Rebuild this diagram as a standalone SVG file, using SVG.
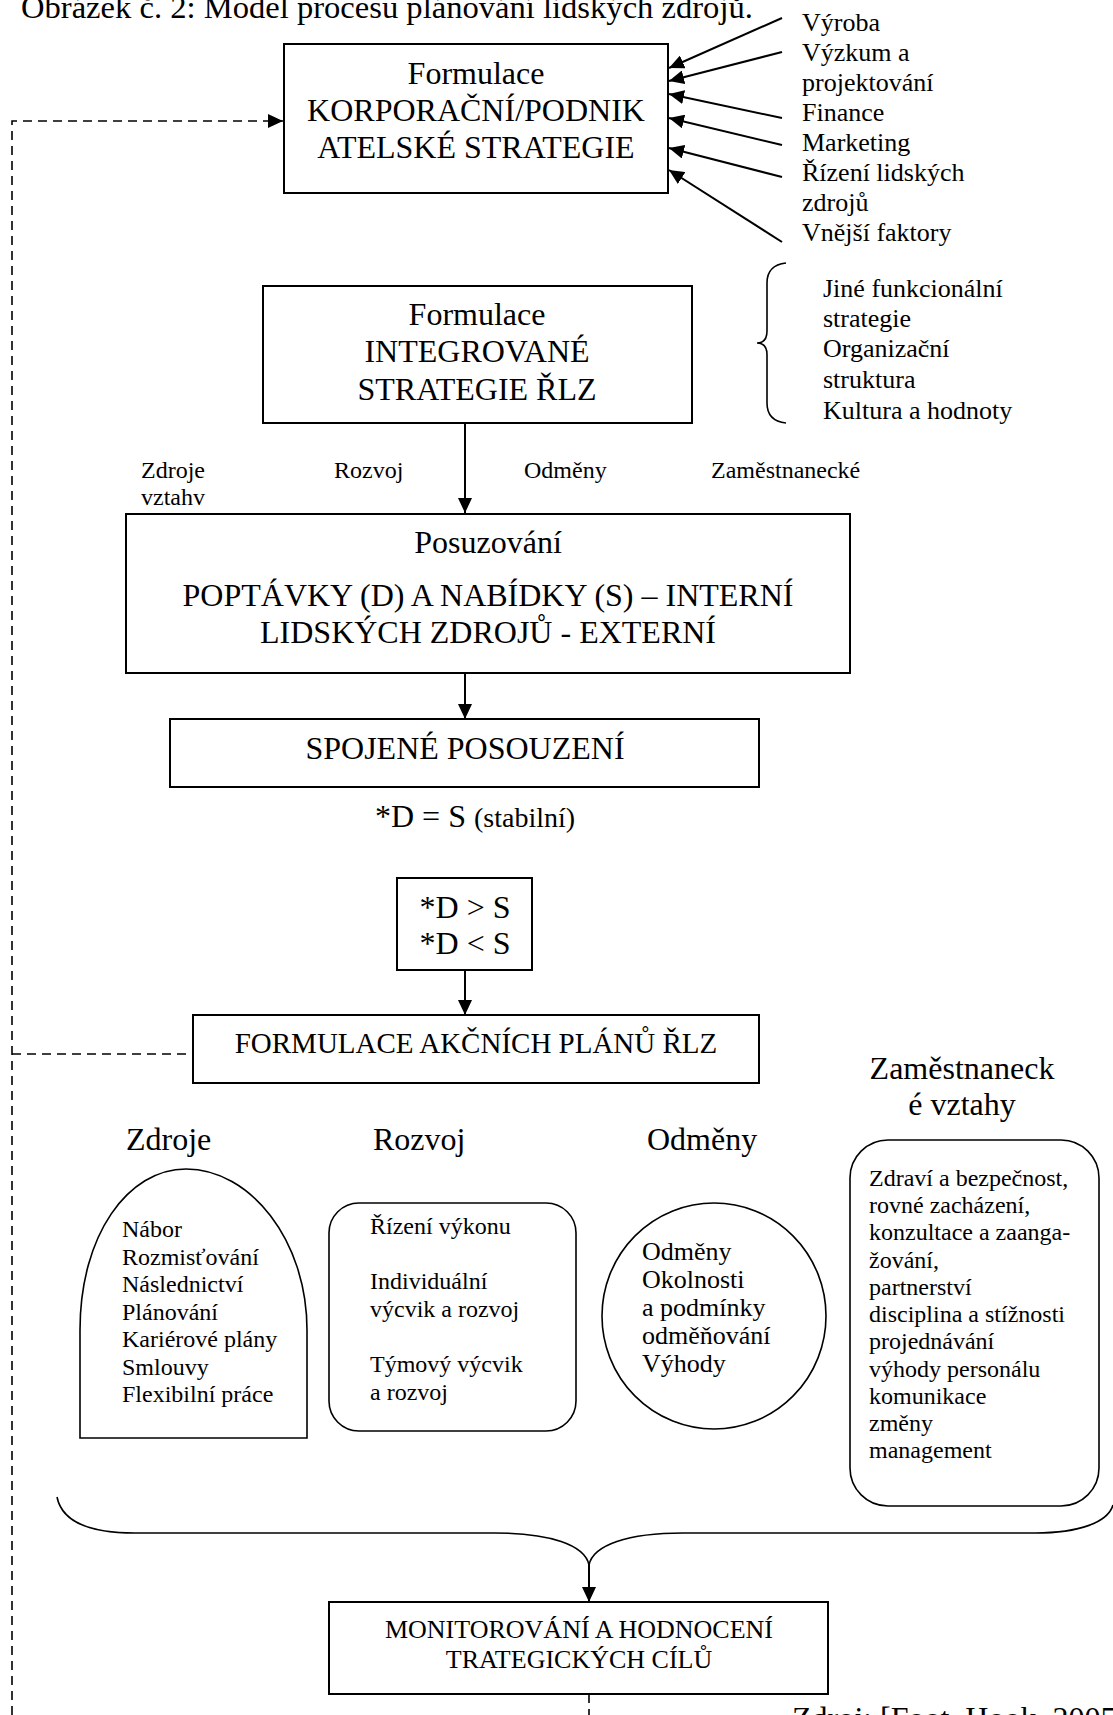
<svg xmlns="http://www.w3.org/2000/svg" width="1113" height="1715" viewBox="0 0 1113 1715">
  <style>
    text { font-family: "Liberation Serif", "Times New Roman", serif; fill: #000; }
    .t32 { font-size: 32px; }
    .t29 { font-size: 29px; }
    .t28 { font-size: 28px; }
    .t26 { font-size: 26px; }
    .t24 { font-size: 24px; }
    .mid { text-anchor: middle; }
    .box { fill: #fff; stroke: #000; stroke-width: 2; }
    .shape { fill: #fff; stroke: #000; stroke-width: 1.6; }
    .link { fill: none; stroke: #000; stroke-width: 2; }
    .dash { fill: none; stroke: #000; stroke-width: 1.6; stroke-dasharray: 9 6; }
    .brace { fill: none; stroke: #000; stroke-width: 1.6; }
  </style>
  <defs>
    <marker id="ah" markerUnits="userSpaceOnUse" viewBox="0 0 15 14" markerWidth="15" markerHeight="14" refX="15" refY="7" orient="auto">
      <path d="M0,0 L15,7 L0,14 Z" fill="#000"/>
    </marker>
  </defs>
  <rect width="1113" height="1715" fill="#fff"/>

  <!-- caption -->
  <text x="21" y="18" style="font-size:32.6px">Obrázek č. 2: Model procesu plánování lidských zdrojů.</text>

  <!-- connectors -->
  <g id="connectors">
    <!-- functional inputs into the corporate strategy -->
    <line class="link" x1="782" y1="18" x2="669" y2="68" marker-end="url(#ah)"/>
    <line class="link" x1="782" y1="52" x2="669" y2="81" marker-end="url(#ah)"/>
    <line class="link" x1="782" y1="118" x2="669" y2="94" marker-end="url(#ah)"/>
    <line class="link" x1="782" y1="145" x2="669" y2="118" marker-end="url(#ah)"/>
    <line class="link" x1="782" y1="177" x2="669" y2="148" marker-end="url(#ah)"/>
    <line class="link" x1="782" y1="242" x2="669" y2="170" marker-end="url(#ah)"/>
    <!-- main vertical flow -->
    <line class="link" x1="465" y1="423" x2="465" y2="513" marker-end="url(#ah)"/>
    <line class="link" x1="465" y1="673" x2="465" y2="719" marker-end="url(#ah)"/>
    <line class="link" x1="465" y1="970" x2="465" y2="1015" marker-end="url(#ah)"/>
    <line class="link" x1="589" y1="1563" x2="589" y2="1602" marker-end="url(#ah)"/>
    <!-- feedback loop (dashed) -->
    <path class="dash" d="M12,1715 L12,121 L283,121" stroke-width="2" marker-end="url(#ah)"/>
    <line class="dash" x1="12" y1="1054" x2="193" y2="1054"/>
    <line class="dash" x1="589" y1="1694" x2="589" y2="1715"/>
    <!-- bracket gathering the four action areas -->
    <path class="brace" d="M57,1497 C62,1522 90,1533 135,1533 L495,1533 C550,1533 585,1545 589,1565 C593,1545 628,1533 683,1533 L1035,1533 C1080,1533 1108,1522 1113,1505"/>
    <!-- bracket for other influences -->
    <path class="brace" d="M786,263 Q767,265 767,283 L767,331 Q767,343 757,343 Q767,343 767,355 L767,403 Q767,421 786,423"/>
  </g>

  <!-- external influences -->
  <g id="inputs" class="t26">
    <text x="802" y="31">Výroba</text>
    <text x="802" y="61">Výzkum a</text>
    <text x="802" y="91">projektování</text>
    <text x="802" y="121">Finance</text>
    <text x="802" y="151">Marketing</text>
    <text x="802" y="181">Řízení lidských</text>
    <text x="802" y="211">zdrojů</text>
    <text x="802" y="241">Vnější faktory</text>
  </g>

  <g id="corporate-strategy">
    <rect class="box" x="284" y="44" width="384" height="149"/>
    <text class="t32 mid" x="476" y="84">Formulace</text>
    <text class="t32 mid" x="476" y="121">KORPORAČNÍ/PODNIK</text>
    <text class="t32 mid" x="476" y="158">ATELSKÉ STRATEGIE</text>
  </g>

  <g id="hr-strategy">
    <rect class="box" x="263" y="286" width="429" height="137"/>
    <text class="t32 mid" x="477" y="325">Formulace</text>
    <text class="t32 mid" x="477" y="362">INTEGROVANÉ</text>
    <text class="t32 mid" x="477" y="400">STRATEGIE ŘLZ</text>
  </g>

  <g id="other-influences" class="t26">
    <text x="823" y="297">Jiné funkcionální</text>
    <text x="823" y="327">strategie</text>
    <text x="823" y="357">Organizační</text>
    <text x="823" y="388">struktura</text>
    <text x="823" y="419">Kultura a hodnoty</text>
  </g>

  <g id="area-labels" class="t24">
    <text x="141" y="478">Zdroje</text>
    <text x="141" y="505">vztahv</text>
    <text x="334" y="478">Rozvoj</text>
    <text x="524" y="478">Odměny</text>
    <text x="711" y="478">Zaměstnanecké</text>
  </g>

  <g id="assessment">
    <rect class="box" x="126" y="514" width="724" height="159"/>
    <text class="t32 mid" x="488" y="553">Posuzování</text>
    <text class="t32 mid" x="488" y="606">POPTÁVKY (D) A NABÍDKY (S) – INTERNÍ</text>
    <text class="t32 mid" x="488" y="643">LIDSKÝCH ZDROJŮ - EXTERNÍ</text>
  </g>

  <g id="joint-assessment">
    <rect class="box" x="170" y="719" width="589" height="68"/>
    <text class="t32 mid" x="465" y="759">SPOJENÉ POSOUZENÍ</text>
  </g>

  <g id="stable-note">
    <text x="375" y="827"><tspan class="t32">*D = S </tspan><tspan class="t28">(stabilní)</tspan></text>
  </g>

  <g id="imbalance">
    <rect class="box" x="397" y="878" width="135" height="92"/>
    <text class="t32 mid" x="465" y="918">*D &gt; S</text>
    <text class="t32 mid" x="465" y="954">*D &lt; S</text>
  </g>

  <g id="action-plans">
    <rect class="box" x="193" y="1015" width="566" height="68"/>
    <text class="t29 mid" x="476" y="1053">FORMULACE AKČNÍCH PLÁNŮ ŘLZ</text>
  </g>

  <!-- action areas -->
  <g id="resources">
    <text class="t32" x="126" y="1150">Zdroje</text>
    <path class="shape" d="M80,1438 L80,1330 C80,1235 128,1169 186,1169 C250,1169 307,1240 307,1330 L307,1438 Z"/>
    <g class="t24">
      <text x="122" y="1237">Nábor</text>
      <text x="122" y="1264.5">Rozmisťování</text>
      <text x="122" y="1292">Následnictví</text>
      <text x="122" y="1319.5">Plánování</text>
      <text x="122" y="1347">Kariérové plány</text>
      <text x="122" y="1374.5">Smlouvy</text>
      <text x="122" y="1402">Flexibilní práce</text>
    </g>
  </g>

  <g id="development">
    <text class="t32" x="373" y="1150">Rozvoj</text>
    <rect class="shape" x="329" y="1203" width="247" height="228" rx="30" ry="30"/>
    <g class="t24">
      <text x="370" y="1234">Řízení výkonu</text>
      <text x="370" y="1289">Individuální</text>
      <text x="370" y="1317">výcvik a rozvoj</text>
      <text x="370" y="1372">Týmový výcvik</text>
      <text x="370" y="1400">a rozvoj</text>
    </g>
  </g>

  <g id="rewards">
    <text class="t32" x="647" y="1150">Odměny</text>
    <ellipse class="shape" cx="714" cy="1316" rx="112" ry="113"/>
    <g class="t26">
      <text x="642" y="1260">Odměny</text>
      <text x="642" y="1288">Okolnosti</text>
      <text x="642" y="1316">a podmínky</text>
      <text x="642" y="1344">odměňování</text>
      <text x="642" y="1372">Výhody</text>
    </g>
  </g>

  <g id="employee-relations">
    <text class="t32 mid" x="962" y="1079">Zaměstnaneck</text>
    <text class="t32 mid" x="962" y="1115">é vztahy</text>
    <rect class="shape" x="850" y="1140" width="249" height="366" rx="38" ry="38"/>
    <g class="t24">
      <text x="869" y="1186">Zdraví a bezpečnost,</text>
      <text x="869" y="1213">rovné zacházení,</text>
      <text x="869" y="1240">konzultace a zaanga-</text>
      <text x="869" y="1267.5">žování,</text>
      <text x="869" y="1295">partnerství</text>
      <text x="869" y="1322">disciplina a stížnosti</text>
      <text x="869" y="1349">projednávání</text>
      <text x="869" y="1376.5">výhody personálu</text>
      <text x="869" y="1404">komunikace</text>
      <text x="869" y="1431">změny</text>
      <text x="869" y="1458">management</text>
    </g>
  </g>

  <g id="monitoring">
    <rect class="box" x="329" y="1602" width="499" height="92"/>
    <text class="t26 mid" x="579" y="1638">MONITOROVÁNÍ A HODNOCENÍ</text>
    <text class="t26 mid" x="579" y="1668">TRATEGICKÝCH CÍLŮ</text>
  </g>

  <!-- source line -->
  <text class="t32" x="792" y="1729">Zdroj: [Foot, Hook, 2005</text>
</svg>
